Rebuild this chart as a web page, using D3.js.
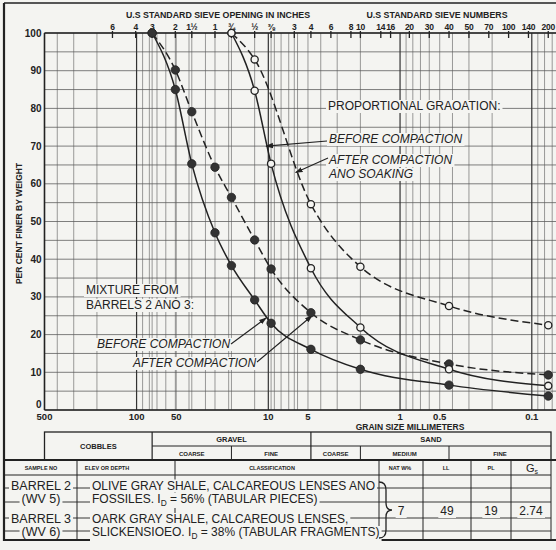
<!DOCTYPE html>
<html>
<head>
<meta charset="utf-8">
<script src="https://cdn.jsdelivr.net/npm/d3@7"></script>
<style>
  body { margin: 0; background: #f4f4f1; }
  svg { display: block; font-family: "Liberation Sans", Arial, sans-serif; }
</style>
</head>
<body>
<div id="app"></div>
<script>
// ---- data ----
// sieve openings (mm) and their labels along the top
const sieveLabels = ["6", "4", "3", "2", "1½", "1", "¾", "½", "⅜", "3", "4", "6", "8", "10", "14", "16", "20", "30", "40", "50", "70", "100", "140", "200"];
const sieveSizes = [152.4, 101.6, 76.2, 50.8, 38.1, 25.4, 19.05, 12.7, 9.525, 6.35, 4.75, 3.35, 2.36, 2.0, 1.4, 1.18, 0.85, 0.6, 0.425, 0.3, 0.212, 0.15, 0.106, 0.075];
const inchSieves = [76.2, 50.8, 38.1, 25.4, 19.05, 12.7, 9.525, 6.35];

const sizeTicks = [500, 100, 50, 10, 5, 1, 0.5, 0.1];
const sizeTickLabels = ["500", "100", "50", "10", "5", "1", "0.5", "0.1"];
const pctTicks = [0, 10, 20, 30, 40, 50, 60, 70, 80, 90, 100];

// mixture from barrels 2 and 3 (filled dots)
const mixSizes = [76.2, 50.8, 38.1, 25.4, 19.05, 12.7, 9.525, 4.75, 2.0, 0.425, 0.075];
const mixBefore = [100, 85, 65.3, 47, 38.3, 29.2, 23, 16.1, 10.8, 6.6, 3.7];
const mixAfter = [100, 90.2, 79.1, 64.4, 56.4, 45.1, 37.4, 25.8, 18.6, 12.2, 9.3];

// proportional gradation (open dots)
const propBeforeSizes = [19.05, 12.7, 9.525, 4.75, 2.0, 0.425, 0.075];
const propBefore = [100, 84.7, 65.3, 37.6, 21.9, 10.8, 6.4];
const propAfterSizes = [19.05, 12.7, 4.75, 2.0, 0.425, 0.075];
const propAfter = [100, 93, 54.6, 38, 27.6, 22.5];

// sample table
const tableHeads = ["SAMPLE NO", "ELEV OR DEPTH", "CLASSIFICATION", "NAT W%", "LL", "PL"];
const sampleRows = ["BARREL 2", "(WV 5)", "BARREL 3", "(WV 6)"];
const classRows = [
  ["OLIVE GRAY SHALE, CALCAREOUS LENSES ANO"],
  ["FOSSILES.  I", "D", " = 56% (TABULAR PIECES)"],
  ["OARK GRAY SHALE, CALCAREOUS LENSES,"],
  ["SLICKENSIOEO.  I", "D", " = 38% (TABULAR FRAGMENTS)"]
];
const propValues = ["7", "49", "19", "2.74"];

// ---- drawing ----
const w = 556, h = 550;
const bg = "#f4f4f1", ink = "#222";

const svg = d3.select("#app").append("svg")
  .attr("width", w).attr("height", h);
svg.append("rect").attr("width", w).attr("height", h).attr("fill", bg);

const x = d3.scaleLog().domain([500, 0.0655]).range([44.5, 556]);
const y = d3.scaleLinear().domain([0, 100]).range([410, 33]);
const x0 = x(500), tableRight = 551;

// text with a paper-coloured box behind it (lettering over the grid)
function label(g, px, py, parts, opts) {
  opts = opts || {};
  const t = g.append("text")
    .attr("x", px).attr("y", py)
    .attr("font-size", opts.size || 12)
    .attr("font-weight", opts.weight || "normal")
    .attr("font-style", opts.italic ? "italic" : "normal")
    .attr("text-anchor", opts.anchor || "start")
    .attr("fill", ink);
  if (typeof parts === "string") parts = [parts];
  parts.forEach((p, i) => {
    const ts = t.append("tspan").text(p);
    if (i % 2 === 1) ts.attr("font-size", (opts.size || 12) * 0.7).attr("dy", 3);
    else if (i > 0) ts.attr("font-size", opts.size || 12).attr("dy", -3);
  });
  if (opts.box) {
    const b = t.node().getBBox();
    g.insert("rect", () => t.node())
      .attr("x", b.x - 2).attr("y", b.y + 1)
      .attr("width", b.width + 4).attr("height", b.height - 1)
      .attr("fill", bg);
  }
  return t;
}

// grid
const grid = svg.append("g");
y.ticks(20).forEach(p => {
  grid.append("line").attr("x1", x0).attr("x2", w)
    .attr("y1", y(p)).attr("y2", y(p))
    .attr("stroke", "#4a4a4a").attr("stroke-width", 0.7);
});
x.ticks().concat(inchSieves).forEach(d => {
  const major = [100, 10, 1, 0.1].some(m => Math.abs(d - m) < 1e-9);
  grid.append("line").attr("x1", x(d)).attr("x2", x(d))
    .attr("y1", y(100)).attr("y2", y(0))
    .attr("stroke", major ? "#333" : "#5a5a5a")
    .attr("stroke-width", major ? 1.2 : 0.6);
});

// plot border
svg.append("line").attr("x1", x0).attr("x2", w).attr("y1", y(100)).attr("y2", y(100))
  .attr("stroke", ink).attr("stroke-width", 1.4);
svg.append("line").attr("x1", x0).attr("x2", w).attr("y1", y(0)).attr("y2", y(0))
  .attr("stroke", ink).attr("stroke-width", 1.6);
svg.append("line").attr("x1", x0).attr("x2", x0).attr("y1", y(100)).attr("y2", y(0))
  .attr("stroke", ink).attr("stroke-width", 1.6);

// y axis labels
pctTicks.forEach(p => {
  svg.append("text").attr("x", x0 - 3).attr("y", p === 0 ? y(p) - 2 : y(p) + 3.5)
    .attr("text-anchor", "end").attr("font-size", 10).attr("font-weight", "bold")
    .attr("fill", ink).text(p);
});
svg.append("text")
  .attr("transform", `translate(22,${(y(100) + y(0)) / 2 + 2}) rotate(-90)`)
  .attr("text-anchor", "middle").attr("font-size", 8.5).attr("font-weight", "bold")
  .attr("fill", ink).text("PER CENT FINER BY WEIGHT");

// x axis labels
sizeTicks.forEach((d, i) => {
  svg.append("text").attr("x", x(d)).attr("y", 419.5)
    .attr("text-anchor", "middle").attr("font-size", 9.5).attr("font-weight", "bold")
    .attr("fill", ink).text(sizeTickLabels[i]);
});
svg.append("text").attr("x", 410).attr("y", 430)
  .attr("text-anchor", "middle").attr("font-size", 8.5).attr("font-weight", "bold")
  .attr("fill", ink).text("GRAIN SIZE MILLIMETERS");

// top sieve scale
sieveSizes.forEach((d, i) => {
  svg.append("line").attr("x1", x(d)).attr("x2", x(d)).attr("y1", 31).attr("y2", 38)
    .attr("stroke", ink).attr("stroke-width", 1.3);
  svg.append("text").attr("x", x(d)).attr("y", 29.5)
    .attr("text-anchor", "middle").attr("font-size", 8.5).attr("font-weight", "bold")
    .attr("letter-spacing", -0.3)
    .attr("fill", ink).text(sieveLabels[i]);
});
svg.append("text").attr("x", 218).attr("y", 18).attr("text-anchor", "middle")
  .attr("font-size", 8.8).attr("font-weight", "bold").attr("fill", ink)
  .text("U.S  STANDARD  SIEVE  OPENING  IN  INCHES");
svg.append("text").attr("x", 437).attr("y", 18).attr("text-anchor", "middle")
  .attr("font-size", 8.8).attr("font-weight", "bold").attr("fill", ink)
  .text("U.S  STANDARD  SIEVE  NUMBERS");

// annotations (drawn before the curves so the curves stay on top)
const ann = svg.append("g");
const defs = svg.append("defs");
defs.append("marker").attr("id", "arr").attr("viewBox", "0 0 10 10")
  .attr("refX", 9).attr("refY", 5).attr("markerWidth", 7).attr("markerHeight", 7)
  .attr("orient", "auto")
  .append("path").attr("d", "M0,1.5 L10,5 L0,8.5 Z").attr("fill", ink);

label(ann, 328, 110, "PROPORTIONAL GRAOATION:", { box: true });
label(ann, 329, 143, "BEFORE COMPACTION", { italic: true, box: true });
label(ann, 329, 164, "AFTER COMPACTION", { italic: true, box: true });
label(ann, 329, 178, "ANO SOAKING", { italic: true, box: true });
label(ann, 86, 294, "MIXTURE FROM", { box: true });
label(ann, 86, 309, "BARRELS 2 ANO 3:", { box: true });
label(ann, 97, 348, "BEFORE COMPACTION", { italic: true, box: true });
label(ann, 133, 367, "AFTER COMPACTION", { italic: true, box: true });

const arrows = [
  [[327, 141], [x(10.4), y(70)]],
  [[328, 158], [x(6.2), y(63)]],
  [[231, 344], [x(10.4), y(24.4)]],
  [[257, 362], [x(4.66), y(25)]]
];
arrows.forEach(a => {
  ann.append("line").attr("x1", a[0][0]).attr("y1", a[0][1])
    .attr("x2", a[1][0]).attr("y2", a[1][1])
    .attr("stroke", ink).attr("stroke-width", 1.1)
    .attr("marker-end", "url(#arr)");
});

// curves
const line = d3.line().x(d => x(d[0])).y(d => y(d[1])).curve(d3.curveMonotoneX);
const series = [
  { sizes: mixSizes, vals: mixBefore, dash: null, open: false },
  { sizes: mixSizes, vals: mixAfter, dash: "8,4", open: false },
  { sizes: propBeforeSizes, vals: propBefore, dash: null, open: true },
  { sizes: propAfterSizes, vals: propAfter, dash: "8,4", open: true }
];
series.forEach(s => {
  const pts = s.sizes.map((d, i) => [d, s.vals[i]]);
  svg.append("path").datum(pts).attr("d", line)
    .attr("fill", "none").attr("stroke", ink).attr("stroke-width", 1.5)
    .attr("stroke-dasharray", s.dash);
  svg.selectAll(null).data(pts).enter().append("circle")
    .attr("cx", d => x(d[0])).attr("cy", d => y(d[1]))
    .attr("r", s.open ? 3.6 : 4.2)
    .attr("fill", s.open ? bg : "#333")
    .attr("stroke", ink).attr("stroke-width", s.open ? 1.3 : 0.8);
});

// soil classification box
const cb = svg.append("g").attr("stroke", ink).attr("fill", "none");
const bt = 432, bm = 446, bb = 460;
cb.append("rect").attr("x", x0).attr("y", bt).attr("width", tableRight - x0).attr("height", bb - bt)
  .attr("stroke-width", 1.3);
cb.append("line").attr("x1", x(76.2)).attr("x2", tableRight).attr("y1", bm).attr("y2", bm).attr("stroke-width", 1);
[76.2, 4.75].forEach(d => cb.append("line").attr("x1", x(d)).attr("x2", x(d))
  .attr("y1", bt).attr("y2", bb).attr("stroke-width", 1.2));
[19.05, 2.0, 0.425].forEach(d => cb.append("line").attr("x1", x(d)).attr("x2", x(d))
  .attr("y1", bm).attr("y2", bb).attr("stroke-width", 1));
const cbText = (px, py, t, s) => svg.append("text").attr("x", px).attr("y", py)
  .attr("text-anchor", "middle").attr("font-size", s).attr("font-weight", "bold")
  .attr("fill", ink).text(t);
cbText((x0 + x(76.2)) / 2, 449, "COBBLES", 7.5);
cbText((x(76.2) + x(4.75)) / 2, 442, "GRAVEL", 7.5);
cbText((x(4.75) + tableRight) / 2, 442, "SAND", 7.5);
cbText((x(76.2) + x(19.05)) / 2, 456, "COARSE", 6);
cbText((x(19.05) + x(4.75)) / 2, 456, "FINE", 6);
cbText((x(4.75) + x(2.0)) / 2, 456, "COARSE", 6);
cbText((x(2.0) + x(0.425)) / 2, 456, "MEDIUM", 6);
cbText((x(0.425) + tableRight) / 2, 456, "FINE", 6);

// sample table
const tb = svg.append("g");
const cols = [4, 77, 175, 379, 423, 471, 511, tableRight];
const rowLines = [488, 502, 518, 531];
tb.append("line").attr("x1", 4).attr("x2", w).attr("y1", 460).attr("y2", 460)
  .attr("stroke", ink).attr("stroke-width", 2.2);
tb.append("line").attr("x1", 4).attr("x2", tableRight).attr("y1", 475).attr("y2", 475)
  .attr("stroke", ink).attr("stroke-width", 1.2);
tb.append("line").attr("x1", 4).attr("x2", w).attr("y1", 540).attr("y2", 540)
  .attr("stroke", ink).attr("stroke-width", 2);
cols.slice(1).forEach(c => tb.append("line").attr("x1", c).attr("x2", c)
  .attr("y1", 460).attr("y2", 540).attr("stroke", ink).attr("stroke-width", 1));
rowLines.forEach(r => tb.append("line").attr("x1", 4).attr("x2", tableRight)
  .attr("y1", r).attr("y2", r).attr("stroke", ink).attr("stroke-width", 0.9));

const headX = [41, 107, 272, 400, 446, 491];
tableHeads.forEach((t, i) => {
  tb.append("text").attr("x", headX[i]).attr("y", 470)
    .attr("text-anchor", "middle").attr("font-size", 5.5).attr("font-weight", "bold")
    .attr("fill", ink).text(t);
});
const gs = tb.append("text").attr("x", 526).attr("y", 472).attr("font-size", 11).attr("fill", ink);
gs.append("tspan").text("G");
gs.append("tspan").text("s").attr("font-size", 7).attr("dy", 2);

const rowBase = [489.5, 503, 523, 536];
sampleRows.forEach((t, i) => label(tb, 41, rowBase[i], t, { anchor: "middle", box: true, size: 12.5 }));
classRows.forEach((t, i) => label(tb, 92, rowBase[i], t, { box: true, size: 12 }));

const valX = [401, 447, 491, 531];
propValues.forEach((v, i) => label(tb, valX[i], 515, v, { anchor: "middle", box: true, size: 12 }));

// brace joining the two samples
tb.append("path")
  .attr("d", "M379,482 Q386,482 386,490 L386,503 Q386,510 392,510 Q386,510 386,517 L386,530 Q386,538 379,538")
  .attr("fill", "none").attr("stroke", ink).attr("stroke-width", 1.3);

// outer frame
svg.append("line").attr("x1", 4).attr("x2", 4).attr("y1", 3).attr("y2", 541)
  .attr("stroke", ink).attr("stroke-width", 2.2);
svg.append("line").attr("x1", 4).attr("x2", w).attr("y1", 3).attr("y2", 3)
  .attr("stroke", ink).attr("stroke-width", 1.6);
</script>
</body>
</html>
